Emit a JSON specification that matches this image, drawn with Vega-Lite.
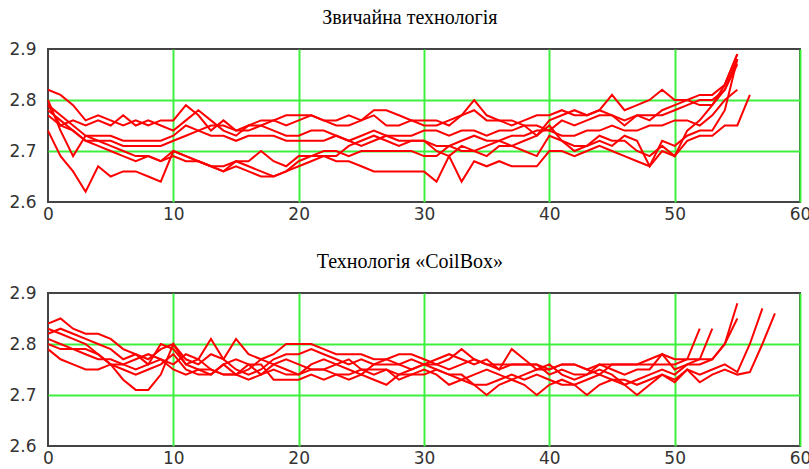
{
 "$schema": "https://vega.github.io/schema/vega-lite/v6.json",
 "padding": {"left": 7, "top": 7, "right": 0, "bottom": 0},
 "background": "white",
 "spacing": 28,
 "config": {
  "view": {"stroke": "#444444", "strokeWidth": 2},
  "title": {"font": "Liberation Serif", "fontSize": 20, "fontWeight": "normal", "color": "#000000", "frame": "bounds", "anchor": "middle", "offset": 12},
  "axis": {"labelFont": "DejaVu Sans", "labelFontSize": 17, "labelColor": "#333333", "ticks": false, "domain": false, "title": null, "gridColor": "#3ef03e", "gridWidth": 2},
  "line": {"color": "#ff0000", "strokeWidth": 2}
 },
 "datasets": {
  "p1": [
{"s":1,"x":0,"y":2.82},{"s":1,"x":1,"y":2.81},{"s":1,"x":2,"y":2.79},{"s":1,"x":3,"y":2.76},{"s":1,"x":4,"y":2.77},{"s":1,"x":5,"y":2.76},{"s":1,"x":6,"y":2.75},{"s":1,"x":7,"y":2.76},{"s":1,"x":8,"y":2.75},{"s":1,"x":9,"y":2.76},{"s":1,"x":10,"y":2.76},{"s":1,"x":11,"y":2.79},{"s":1,"x":12,"y":2.77},{"s":1,"x":13,"y":2.74},{"s":1,"x":14,"y":2.76},{"s":1,"x":15,"y":2.74},{"s":1,"x":16,"y":2.75},{"s":1,"x":17,"y":2.76},{"s":1,"x":18,"y":2.76},{"s":1,"x":19,"y":2.77},{"s":1,"x":20,"y":2.77},{"s":1,"x":21,"y":2.77},{"s":1,"x":22,"y":2.76},{"s":1,"x":23,"y":2.76},{"s":1,"x":24,"y":2.77},{"s":1,"x":25,"y":2.76},{"s":1,"x":26,"y":2.78},{"s":1,"x":27,"y":2.78},{"s":1,"x":28,"y":2.77},{"s":1,"x":29,"y":2.76},{"s":1,"x":30,"y":2.76},{"s":1,"x":31,"y":2.76},{"s":1,"x":32,"y":2.75},{"s":1,"x":33,"y":2.77},{"s":1,"x":34,"y":2.78},{"s":1,"x":35,"y":2.76},{"s":1,"x":36,"y":2.76},{"s":1,"x":37,"y":2.75},{"s":1,"x":38,"y":2.76},{"s":1,"x":39,"y":2.77},{"s":1,"x":40,"y":2.77},{"s":1,"x":41,"y":2.78},{"s":1,"x":42,"y":2.77},{"s":1,"x":43,"y":2.77},{"s":1,"x":44,"y":2.78},{"s":1,"x":45,"y":2.81},{"s":1,"x":46,"y":2.78},{"s":1,"x":47,"y":2.79},{"s":1,"x":48,"y":2.8},{"s":1,"x":49,"y":2.82},{"s":1,"x":50,"y":2.8},{"s":1,"x":51,"y":2.8},{"s":1,"x":52,"y":2.81},{"s":1,"x":53,"y":2.81},{"s":1,"x":54,"y":2.83},{"s":1,"x":55,"y":2.89},
{"s":2,"x":0,"y":2.8},{"s":2,"x":1,"y":2.74},{"s":2,"x":2,"y":2.69},{"s":2,"x":3,"y":2.73},{"s":2,"x":4,"y":2.73},{"s":2,"x":5,"y":2.73},{"s":2,"x":6,"y":2.72},{"s":2,"x":7,"y":2.72},{"s":2,"x":8,"y":2.72},{"s":2,"x":9,"y":2.72},{"s":2,"x":10,"y":2.73},{"s":2,"x":11,"y":2.75},{"s":2,"x":12,"y":2.74},{"s":2,"x":13,"y":2.73},{"s":2,"x":14,"y":2.73},{"s":2,"x":15,"y":2.72},{"s":2,"x":16,"y":2.73},{"s":2,"x":17,"y":2.73},{"s":2,"x":18,"y":2.73},{"s":2,"x":19,"y":2.72},{"s":2,"x":20,"y":2.72},{"s":2,"x":21,"y":2.72},{"s":2,"x":22,"y":2.72},{"s":2,"x":23,"y":2.73},{"s":2,"x":24,"y":2.72},{"s":2,"x":25,"y":2.73},{"s":2,"x":26,"y":2.74},{"s":2,"x":27,"y":2.73},{"s":2,"x":28,"y":2.73},{"s":2,"x":29,"y":2.73},{"s":2,"x":30,"y":2.74},{"s":2,"x":31,"y":2.74},{"s":2,"x":32,"y":2.73},{"s":2,"x":33,"y":2.74},{"s":2,"x":34,"y":2.74},{"s":2,"x":35,"y":2.73},{"s":2,"x":36,"y":2.74},{"s":2,"x":37,"y":2.74},{"s":2,"x":38,"y":2.75},{"s":2,"x":39,"y":2.75},{"s":2,"x":40,"y":2.74},{"s":2,"x":41,"y":2.76},{"s":2,"x":42,"y":2.75},{"s":2,"x":43,"y":2.76},{"s":2,"x":44,"y":2.77},{"s":2,"x":45,"y":2.77},{"s":2,"x":46,"y":2.76},{"s":2,"x":47,"y":2.77},{"s":2,"x":48,"y":2.77},{"s":2,"x":49,"y":2.77},{"s":2,"x":50,"y":2.78},{"s":2,"x":51,"y":2.79},{"s":2,"x":52,"y":2.8},{"s":2,"x":53,"y":2.8},{"s":2,"x":54,"y":2.82},{"s":2,"x":55,"y":2.88},
{"s":3,"x":0,"y":2.79},{"s":3,"x":1,"y":2.75},{"s":3,"x":2,"y":2.76},{"s":3,"x":3,"y":2.75},{"s":3,"x":4,"y":2.76},{"s":3,"x":5,"y":2.75},{"s":3,"x":6,"y":2.77},{"s":3,"x":7,"y":2.75},{"s":3,"x":8,"y":2.76},{"s":3,"x":9,"y":2.75},{"s":3,"x":10,"y":2.74},{"s":3,"x":11,"y":2.76},{"s":3,"x":12,"y":2.78},{"s":3,"x":13,"y":2.76},{"s":3,"x":14,"y":2.74},{"s":3,"x":15,"y":2.73},{"s":3,"x":16,"y":2.75},{"s":3,"x":17,"y":2.75},{"s":3,"x":18,"y":2.76},{"s":3,"x":19,"y":2.75},{"s":3,"x":20,"y":2.76},{"s":3,"x":21,"y":2.77},{"s":3,"x":22,"y":2.76},{"s":3,"x":23,"y":2.75},{"s":3,"x":24,"y":2.75},{"s":3,"x":25,"y":2.76},{"s":3,"x":26,"y":2.77},{"s":3,"x":27,"y":2.75},{"s":3,"x":28,"y":2.75},{"s":3,"x":29,"y":2.76},{"s":3,"x":30,"y":2.75},{"s":3,"x":31,"y":2.75},{"s":3,"x":32,"y":2.76},{"s":3,"x":33,"y":2.77},{"s":3,"x":34,"y":2.8},{"s":3,"x":35,"y":2.77},{"s":3,"x":36,"y":2.76},{"s":3,"x":37,"y":2.76},{"s":3,"x":38,"y":2.75},{"s":3,"x":39,"y":2.73},{"s":3,"x":40,"y":2.76},{"s":3,"x":41,"y":2.77},{"s":3,"x":42,"y":2.78},{"s":3,"x":43,"y":2.77},{"s":3,"x":44,"y":2.78},{"s":3,"x":45,"y":2.77},{"s":3,"x":46,"y":2.75},{"s":3,"x":47,"y":2.77},{"s":3,"x":48,"y":2.76},{"s":3,"x":49,"y":2.78},{"s":3,"x":50,"y":2.79},{"s":3,"x":51,"y":2.8},{"s":3,"x":52,"y":2.79},{"s":3,"x":53,"y":2.79},{"s":3,"x":54,"y":2.82},{"s":3,"x":55,"y":2.87},
{"s":4,"x":0,"y":2.77},{"s":4,"x":1,"y":2.75},{"s":4,"x":2,"y":2.74},{"s":4,"x":3,"y":2.72},{"s":4,"x":4,"y":2.72},{"s":4,"x":5,"y":2.72},{"s":4,"x":6,"y":2.71},{"s":4,"x":7,"y":2.71},{"s":4,"x":8,"y":2.71},{"s":4,"x":9,"y":2.71},{"s":4,"x":10,"y":2.72},{"s":4,"x":11,"y":2.73},{"s":4,"x":12,"y":2.74},{"s":4,"x":13,"y":2.75},{"s":4,"x":14,"y":2.75},{"s":4,"x":15,"y":2.74},{"s":4,"x":16,"y":2.74},{"s":4,"x":17,"y":2.75},{"s":4,"x":18,"y":2.74},{"s":4,"x":19,"y":2.73},{"s":4,"x":20,"y":2.73},{"s":4,"x":21,"y":2.74},{"s":4,"x":22,"y":2.74},{"s":4,"x":23,"y":2.73},{"s":4,"x":24,"y":2.72},{"s":4,"x":25,"y":2.71},{"s":4,"x":26,"y":2.72},{"s":4,"x":27,"y":2.73},{"s":4,"x":28,"y":2.72},{"s":4,"x":29,"y":2.72},{"s":4,"x":30,"y":2.72},{"s":4,"x":31,"y":2.71},{"s":4,"x":32,"y":2.71},{"s":4,"x":33,"y":2.72},{"s":4,"x":34,"y":2.73},{"s":4,"x":35,"y":2.72},{"s":4,"x":36,"y":2.72},{"s":4,"x":37,"y":2.73},{"s":4,"x":38,"y":2.73},{"s":4,"x":39,"y":2.74},{"s":4,"x":40,"y":2.74},{"s":4,"x":41,"y":2.73},{"s":4,"x":42,"y":2.73},{"s":4,"x":43,"y":2.74},{"s":4,"x":44,"y":2.74},{"s":4,"x":45,"y":2.75},{"s":4,"x":46,"y":2.74},{"s":4,"x":47,"y":2.74},{"s":4,"x":48,"y":2.75},{"s":4,"x":49,"y":2.75},{"s":4,"x":50,"y":2.76},{"s":4,"x":51,"y":2.76},{"s":4,"x":52,"y":2.75},{"s":4,"x":53,"y":2.77},{"s":4,"x":54,"y":2.8},{"s":4,"x":55,"y":2.82},
{"s":5,"x":0,"y":2.74},{"s":5,"x":1,"y":2.69},{"s":5,"x":2,"y":2.66},{"s":5,"x":3,"y":2.62},{"s":5,"x":4,"y":2.67},{"s":5,"x":5,"y":2.65},{"s":5,"x":6,"y":2.66},{"s":5,"x":7,"y":2.66},{"s":5,"x":8,"y":2.65},{"s":5,"x":9,"y":2.64},{"s":5,"x":10,"y":2.7},{"s":5,"x":11,"y":2.69},{"s":5,"x":12,"y":2.68},{"s":5,"x":13,"y":2.67},{"s":5,"x":14,"y":2.66},{"s":5,"x":15,"y":2.67},{"s":5,"x":16,"y":2.66},{"s":5,"x":17,"y":2.65},{"s":5,"x":18,"y":2.65},{"s":5,"x":19,"y":2.66},{"s":5,"x":20,"y":2.67},{"s":5,"x":21,"y":2.68},{"s":5,"x":22,"y":2.69},{"s":5,"x":23,"y":2.69},{"s":5,"x":24,"y":2.71},{"s":5,"x":25,"y":2.72},{"s":5,"x":26,"y":2.73},{"s":5,"x":27,"y":2.72},{"s":5,"x":28,"y":2.71},{"s":5,"x":29,"y":2.72},{"s":5,"x":30,"y":2.72},{"s":5,"x":31,"y":2.7},{"s":5,"x":32,"y":2.69},{"s":5,"x":33,"y":2.71},{"s":5,"x":34,"y":2.7},{"s":5,"x":35,"y":2.71},{"s":5,"x":36,"y":2.72},{"s":5,"x":37,"y":2.71},{"s":5,"x":38,"y":2.72},{"s":5,"x":39,"y":2.73},{"s":5,"x":40,"y":2.75},{"s":5,"x":41,"y":2.72},{"s":5,"x":42,"y":2.7},{"s":5,"x":43,"y":2.71},{"s":5,"x":44,"y":2.73},{"s":5,"x":45,"y":2.72},{"s":5,"x":46,"y":2.72},{"s":5,"x":47,"y":2.7},{"s":5,"x":48,"y":2.69},{"s":5,"x":49,"y":2.71},{"s":5,"x":50,"y":2.69},{"s":5,"x":51,"y":2.72},{"s":5,"x":52,"y":2.73},{"s":5,"x":53,"y":2.73},{"s":5,"x":54,"y":2.75},{"s":5,"x":55,"y":2.75},{"s":5,"x":56,"y":2.81},
{"s":6,"x":0,"y":2.78},{"s":6,"x":1,"y":2.76},{"s":6,"x":2,"y":2.74},{"s":6,"x":3,"y":2.72},{"s":6,"x":4,"y":2.71},{"s":6,"x":5,"y":2.7},{"s":6,"x":6,"y":2.69},{"s":6,"x":7,"y":2.68},{"s":6,"x":8,"y":2.69},{"s":6,"x":9,"y":2.68},{"s":6,"x":10,"y":2.7},{"s":6,"x":11,"y":2.69},{"s":6,"x":12,"y":2.68},{"s":6,"x":13,"y":2.67},{"s":6,"x":14,"y":2.67},{"s":6,"x":15,"y":2.68},{"s":6,"x":16,"y":2.68},{"s":6,"x":17,"y":2.7},{"s":6,"x":18,"y":2.68},{"s":6,"x":19,"y":2.67},{"s":6,"x":20,"y":2.69},{"s":6,"x":21,"y":2.69},{"s":6,"x":22,"y":2.7},{"s":6,"x":23,"y":2.7},{"s":6,"x":24,"y":2.69},{"s":6,"x":25,"y":2.7},{"s":6,"x":26,"y":2.7},{"s":6,"x":27,"y":2.7},{"s":6,"x":28,"y":2.7},{"s":6,"x":29,"y":2.7},{"s":6,"x":30,"y":2.69},{"s":6,"x":31,"y":2.69},{"s":6,"x":32,"y":2.71},{"s":6,"x":33,"y":2.7},{"s":6,"x":34,"y":2.7},{"s":6,"x":35,"y":2.69},{"s":6,"x":36,"y":2.71},{"s":6,"x":37,"y":2.71},{"s":6,"x":38,"y":2.7},{"s":6,"x":39,"y":2.69},{"s":6,"x":40,"y":2.73},{"s":6,"x":41,"y":2.72},{"s":6,"x":42,"y":2.71},{"s":6,"x":43,"y":2.71},{"s":6,"x":44,"y":2.72},{"s":6,"x":45,"y":2.71},{"s":6,"x":46,"y":2.73},{"s":6,"x":47,"y":2.72},{"s":6,"x":48,"y":2.67},{"s":6,"x":49,"y":2.72},{"s":6,"x":50,"y":2.71},{"s":6,"x":51,"y":2.73},{"s":6,"x":52,"y":2.74},{"s":6,"x":53,"y":2.74},{"s":6,"x":54,"y":2.78},{"s":6,"x":55,"y":2.88},
{"s":7,"x":0,"y":2.79},{"s":7,"x":1,"y":2.77},{"s":7,"x":2,"y":2.75},{"s":7,"x":3,"y":2.73},{"s":7,"x":4,"y":2.72},{"s":7,"x":5,"y":2.71},{"s":7,"x":6,"y":2.7},{"s":7,"x":7,"y":2.69},{"s":7,"x":8,"y":2.69},{"s":7,"x":9,"y":2.68},{"s":7,"x":10,"y":2.69},{"s":7,"x":11,"y":2.68},{"s":7,"x":12,"y":2.68},{"s":7,"x":13,"y":2.67},{"s":7,"x":14,"y":2.66},{"s":7,"x":15,"y":2.68},{"s":7,"x":16,"y":2.67},{"s":7,"x":17,"y":2.66},{"s":7,"x":18,"y":2.65},{"s":7,"x":19,"y":2.66},{"s":7,"x":20,"y":2.68},{"s":7,"x":21,"y":2.69},{"s":7,"x":22,"y":2.69},{"s":7,"x":23,"y":2.68},{"s":7,"x":24,"y":2.68},{"s":7,"x":25,"y":2.67},{"s":7,"x":26,"y":2.66},{"s":7,"x":27,"y":2.66},{"s":7,"x":28,"y":2.66},{"s":7,"x":29,"y":2.66},{"s":7,"x":30,"y":2.66},{"s":7,"x":31,"y":2.64},{"s":7,"x":32,"y":2.69},{"s":7,"x":33,"y":2.64},{"s":7,"x":34,"y":2.68},{"s":7,"x":35,"y":2.67},{"s":7,"x":36,"y":2.68},{"s":7,"x":37,"y":2.67},{"s":7,"x":38,"y":2.67},{"s":7,"x":39,"y":2.67},{"s":7,"x":40,"y":2.7},{"s":7,"x":41,"y":2.7},{"s":7,"x":42,"y":2.69},{"s":7,"x":43,"y":2.7},{"s":7,"x":44,"y":2.71},{"s":7,"x":45,"y":2.7},{"s":7,"x":46,"y":2.69},{"s":7,"x":47,"y":2.68},{"s":7,"x":48,"y":2.67},{"s":7,"x":49,"y":2.7},{"s":7,"x":50,"y":2.69},{"s":7,"x":51,"y":2.74},{"s":7,"x":52,"y":2.76},{"s":7,"x":53,"y":2.79},{"s":7,"x":54,"y":2.83},{"s":7,"x":55,"y":2.89}
  ],
  "p2": [
{"s":1,"x":0,"y":2.84},{"s":1,"x":1,"y":2.85},{"s":1,"x":2,"y":2.83},{"s":1,"x":3,"y":2.82},{"s":1,"x":4,"y":2.82},{"s":1,"x":5,"y":2.81},{"s":1,"x":6,"y":2.79},{"s":1,"x":7,"y":2.78},{"s":1,"x":8,"y":2.77},{"s":1,"x":9,"y":2.79},{"s":1,"x":10,"y":2.8},{"s":1,"x":11,"y":2.77},{"s":1,"x":12,"y":2.76},{"s":1,"x":13,"y":2.78},{"s":1,"x":14,"y":2.77},{"s":1,"x":15,"y":2.81},{"s":1,"x":16,"y":2.78},{"s":1,"x":17,"y":2.77},{"s":1,"x":18,"y":2.78},{"s":1,"x":19,"y":2.8},{"s":1,"x":20,"y":2.8},{"s":1,"x":21,"y":2.8},{"s":1,"x":22,"y":2.79},{"s":1,"x":23,"y":2.78},{"s":1,"x":24,"y":2.78},{"s":1,"x":25,"y":2.78},{"s":1,"x":26,"y":2.77},{"s":1,"x":27,"y":2.77},{"s":1,"x":28,"y":2.78},{"s":1,"x":29,"y":2.78},{"s":1,"x":30,"y":2.77},{"s":1,"x":31,"y":2.76},{"s":1,"x":32,"y":2.77},{"s":1,"x":33,"y":2.79},{"s":1,"x":34,"y":2.77},{"s":1,"x":35,"y":2.76},{"s":1,"x":36,"y":2.76},{"s":1,"x":37,"y":2.76},{"s":1,"x":38,"y":2.76},{"s":1,"x":39,"y":2.76},{"s":1,"x":40,"y":2.75},{"s":1,"x":41,"y":2.76},{"s":1,"x":42,"y":2.76},{"s":1,"x":43,"y":2.75},{"s":1,"x":44,"y":2.76},{"s":1,"x":45,"y":2.76},{"s":1,"x":46,"y":2.76},{"s":1,"x":47,"y":2.76},{"s":1,"x":48,"y":2.77},{"s":1,"x":49,"y":2.78},{"s":1,"x":50,"y":2.77},{"s":1,"x":51,"y":2.77},{"s":1,"x":52,"y":2.77},{"s":1,"x":53,"y":2.77},{"s":1,"x":54,"y":2.8},{"s":1,"x":55,"y":2.88},
{"s":2,"x":0,"y":2.83},{"s":2,"x":1,"y":2.82},{"s":2,"x":2,"y":2.81},{"s":2,"x":3,"y":2.8},{"s":2,"x":4,"y":2.78},{"s":2,"x":5,"y":2.76},{"s":2,"x":6,"y":2.73},{"s":2,"x":7,"y":2.71},{"s":2,"x":8,"y":2.71},{"s":2,"x":9,"y":2.74},{"s":2,"x":10,"y":2.8},{"s":2,"x":11,"y":2.76},{"s":2,"x":12,"y":2.75},{"s":2,"x":13,"y":2.74},{"s":2,"x":14,"y":2.76},{"s":2,"x":15,"y":2.74},{"s":2,"x":16,"y":2.76},{"s":2,"x":17,"y":2.76},{"s":2,"x":18,"y":2.73},{"s":2,"x":19,"y":2.73},{"s":2,"x":20,"y":2.73},{"s":2,"x":21,"y":2.74},{"s":2,"x":22,"y":2.73},{"s":2,"x":23,"y":2.74},{"s":2,"x":24,"y":2.73},{"s":2,"x":25,"y":2.74},{"s":2,"x":26,"y":2.73},{"s":2,"x":27,"y":2.72},{"s":2,"x":28,"y":2.74},{"s":2,"x":29,"y":2.75},{"s":2,"x":30,"y":2.76},{"s":2,"x":31,"y":2.75},{"s":2,"x":32,"y":2.74},{"s":2,"x":33,"y":2.73},{"s":2,"x":34,"y":2.72},{"s":2,"x":35,"y":2.7},{"s":2,"x":36,"y":2.72},{"s":2,"x":37,"y":2.73},{"s":2,"x":38,"y":2.72},{"s":2,"x":39,"y":2.7},{"s":2,"x":40,"y":2.72},{"s":2,"x":41,"y":2.73},{"s":2,"x":42,"y":2.72},{"s":2,"x":43,"y":2.7},{"s":2,"x":44,"y":2.72},{"s":2,"x":45,"y":2.73},{"s":2,"x":46,"y":2.72},{"s":2,"x":47,"y":2.7},{"s":2,"x":48,"y":2.72},{"s":2,"x":49,"y":2.74},{"s":2,"x":50,"y":2.73},{"s":2,"x":51,"y":2.75},{"s":2,"x":52,"y":2.725},{"s":2,"x":53,"y":2.74},{"s":2,"x":54,"y":2.75},{"s":2,"x":55,"y":2.74},{"s":2,"x":56,"y":2.745},{"s":2,"x":57,"y":2.8},{"s":2,"x":58,"y":2.86},
{"s":3,"x":0,"y":2.82},{"s":3,"x":1,"y":2.83},{"s":3,"x":2,"y":2.82},{"s":3,"x":3,"y":2.81},{"s":3,"x":4,"y":2.8},{"s":3,"x":5,"y":2.79},{"s":3,"x":6,"y":2.77},{"s":3,"x":7,"y":2.78},{"s":3,"x":8,"y":2.76},{"s":3,"x":9,"y":2.8},{"s":3,"x":10,"y":2.79},{"s":3,"x":11,"y":2.76},{"s":3,"x":12,"y":2.77},{"s":3,"x":13,"y":2.81},{"s":3,"x":14,"y":2.77},{"s":3,"x":15,"y":2.75},{"s":3,"x":16,"y":2.74},{"s":3,"x":17,"y":2.75},{"s":3,"x":18,"y":2.77},{"s":3,"x":19,"y":2.78},{"s":3,"x":20,"y":2.78},{"s":3,"x":21,"y":2.79},{"s":3,"x":22,"y":2.78},{"s":3,"x":23,"y":2.77},{"s":3,"x":24,"y":2.76},{"s":3,"x":25,"y":2.77},{"s":3,"x":26,"y":2.76},{"s":3,"x":27,"y":2.76},{"s":3,"x":28,"y":2.76},{"s":3,"x":29,"y":2.77},{"s":3,"x":30,"y":2.76},{"s":3,"x":31,"y":2.77},{"s":3,"x":32,"y":2.78},{"s":3,"x":33,"y":2.77},{"s":3,"x":34,"y":2.76},{"s":3,"x":35,"y":2.77},{"s":3,"x":36,"y":2.75},{"s":3,"x":37,"y":2.79},{"s":3,"x":38,"y":2.77},{"s":3,"x":39,"y":2.75},{"s":3,"x":40,"y":2.75},{"s":3,"x":41,"y":2.76},{"s":3,"x":42,"y":2.76},{"s":3,"x":43,"y":2.75},{"s":3,"x":44,"y":2.74},{"s":3,"x":45,"y":2.76},{"s":3,"x":46,"y":2.76},{"s":3,"x":47,"y":2.76},{"s":3,"x":48,"y":2.76},{"s":3,"x":49,"y":2.76},{"s":3,"x":50,"y":2.76},{"s":3,"x":51,"y":2.77},{"s":3,"x":52,"y":2.83},
{"s":4,"x":0,"y":2.81},{"s":4,"x":1,"y":2.8},{"s":4,"x":2,"y":2.79},{"s":4,"x":3,"y":2.79},{"s":4,"x":4,"y":2.78},{"s":4,"x":5,"y":2.76},{"s":4,"x":6,"y":2.75},{"s":4,"x":7,"y":2.74},{"s":4,"x":8,"y":2.75},{"s":4,"x":9,"y":2.76},{"s":4,"x":10,"y":2.78},{"s":4,"x":11,"y":2.75},{"s":4,"x":12,"y":2.74},{"s":4,"x":13,"y":2.74},{"s":4,"x":14,"y":2.76},{"s":4,"x":15,"y":2.77},{"s":4,"x":16,"y":2.76},{"s":4,"x":17,"y":2.74},{"s":4,"x":18,"y":2.76},{"s":4,"x":19,"y":2.77},{"s":4,"x":20,"y":2.76},{"s":4,"x":21,"y":2.75},{"s":4,"x":22,"y":2.75},{"s":4,"x":23,"y":2.76},{"s":4,"x":24,"y":2.77},{"s":4,"x":25,"y":2.75},{"s":4,"x":26,"y":2.74},{"s":4,"x":27,"y":2.75},{"s":4,"x":28,"y":2.74},{"s":4,"x":29,"y":2.74},{"s":4,"x":30,"y":2.75},{"s":4,"x":31,"y":2.74},{"s":4,"x":32,"y":2.72},{"s":4,"x":33,"y":2.73},{"s":4,"x":34,"y":2.74},{"s":4,"x":35,"y":2.75},{"s":4,"x":36,"y":2.74},{"s":4,"x":37,"y":2.73},{"s":4,"x":38,"y":2.74},{"s":4,"x":39,"y":2.75},{"s":4,"x":40,"y":2.76},{"s":4,"x":41,"y":2.74},{"s":4,"x":42,"y":2.73},{"s":4,"x":43,"y":2.74},{"s":4,"x":44,"y":2.75},{"s":4,"x":45,"y":2.74},{"s":4,"x":46,"y":2.72},{"s":4,"x":47,"y":2.73},{"s":4,"x":48,"y":2.74},{"s":4,"x":49,"y":2.75},{"s":4,"x":50,"y":2.74},{"s":4,"x":51,"y":2.76},{"s":4,"x":52,"y":2.77},{"s":4,"x":53,"y":2.83},
{"s":5,"x":0,"y":2.8},{"s":5,"x":1,"y":2.79},{"s":5,"x":2,"y":2.79},{"s":5,"x":3,"y":2.78},{"s":5,"x":4,"y":2.77},{"s":5,"x":5,"y":2.77},{"s":5,"x":6,"y":2.76},{"s":5,"x":7,"y":2.77},{"s":5,"x":8,"y":2.78},{"s":5,"x":9,"y":2.77},{"s":5,"x":10,"y":2.76},{"s":5,"x":11,"y":2.78},{"s":5,"x":12,"y":2.77},{"s":5,"x":13,"y":2.75},{"s":5,"x":14,"y":2.74},{"s":5,"x":15,"y":2.74},{"s":5,"x":16,"y":2.75},{"s":5,"x":17,"y":2.77},{"s":5,"x":18,"y":2.76},{"s":5,"x":19,"y":2.75},{"s":5,"x":20,"y":2.74},{"s":5,"x":21,"y":2.76},{"s":5,"x":22,"y":2.77},{"s":5,"x":23,"y":2.76},{"s":5,"x":24,"y":2.75},{"s":5,"x":25,"y":2.74},{"s":5,"x":26,"y":2.76},{"s":5,"x":27,"y":2.77},{"s":5,"x":28,"y":2.76},{"s":5,"x":29,"y":2.75},{"s":5,"x":30,"y":2.76},{"s":5,"x":31,"y":2.76},{"s":5,"x":32,"y":2.75},{"s":5,"x":33,"y":2.76},{"s":5,"x":34,"y":2.77},{"s":5,"x":35,"y":2.76},{"s":5,"x":36,"y":2.75},{"s":5,"x":37,"y":2.76},{"s":5,"x":38,"y":2.76},{"s":5,"x":39,"y":2.76},{"s":5,"x":40,"y":2.74},{"s":5,"x":41,"y":2.75},{"s":5,"x":42,"y":2.74},{"s":5,"x":43,"y":2.74},{"s":5,"x":44,"y":2.76},{"s":5,"x":45,"y":2.75},{"s":5,"x":46,"y":2.74},{"s":5,"x":47,"y":2.75},{"s":5,"x":48,"y":2.75},{"s":5,"x":49,"y":2.78},{"s":5,"x":50,"y":2.75},{"s":5,"x":51,"y":2.76},{"s":5,"x":52,"y":2.76},{"s":5,"x":53,"y":2.77},{"s":5,"x":54,"y":2.8},{"s":5,"x":55,"y":2.85},
{"s":6,"x":0,"y":2.79},{"s":6,"x":1,"y":2.77},{"s":6,"x":2,"y":2.76},{"s":6,"x":3,"y":2.75},{"s":6,"x":4,"y":2.75},{"s":6,"x":5,"y":2.76},{"s":6,"x":6,"y":2.76},{"s":6,"x":7,"y":2.75},{"s":6,"x":8,"y":2.76},{"s":6,"x":9,"y":2.77},{"s":6,"x":10,"y":2.75},{"s":6,"x":11,"y":2.74},{"s":6,"x":12,"y":2.75},{"s":6,"x":13,"y":2.75},{"s":6,"x":14,"y":2.74},{"s":6,"x":15,"y":2.74},{"s":6,"x":16,"y":2.73},{"s":6,"x":17,"y":2.74},{"s":6,"x":18,"y":2.75},{"s":6,"x":19,"y":2.74},{"s":6,"x":20,"y":2.74},{"s":6,"x":21,"y":2.75},{"s":6,"x":22,"y":2.75},{"s":6,"x":23,"y":2.74},{"s":6,"x":24,"y":2.74},{"s":6,"x":25,"y":2.75},{"s":6,"x":26,"y":2.75},{"s":6,"x":27,"y":2.75},{"s":6,"x":28,"y":2.73},{"s":6,"x":29,"y":2.74},{"s":6,"x":30,"y":2.74},{"s":6,"x":31,"y":2.75},{"s":6,"x":32,"y":2.74},{"s":6,"x":33,"y":2.74},{"s":6,"x":34,"y":2.72},{"s":6,"x":35,"y":2.72},{"s":6,"x":36,"y":2.73},{"s":6,"x":37,"y":2.74},{"s":6,"x":38,"y":2.73},{"s":6,"x":39,"y":2.74},{"s":6,"x":40,"y":2.73},{"s":6,"x":41,"y":2.72},{"s":6,"x":42,"y":2.72},{"s":6,"x":43,"y":2.73},{"s":6,"x":44,"y":2.74},{"s":6,"x":45,"y":2.73},{"s":6,"x":46,"y":2.73},{"s":6,"x":47,"y":2.72},{"s":6,"x":48,"y":2.73},{"s":6,"x":49,"y":2.74},{"s":6,"x":50,"y":2.725},{"s":6,"x":51,"y":2.75},{"s":6,"x":52,"y":2.74},{"s":6,"x":53,"y":2.75},{"s":6,"x":54,"y":2.76},{"s":6,"x":55,"y":2.745},{"s":6,"x":56,"y":2.8},{"s":6,"x":57,"y":2.87}
  ]
 },
 "vconcat": [
  {
   "title": "Звичайна технологія",
   "data": {"name": "p1"},
   "width": 752,
   "height": 153,
   "mark": {"type": "line", "color": "#ff0000", "strokeWidth": 2},
   "encoding": {
    "x": {"field": "x", "type": "quantitative", "scale": {"domain": [0, 60], "nice": false, "zero": false}, "axis": {"values": [0, 10, 20, 30, 40, 50, 60], "labelFlush": false, "labelPadding": 4, "gridOpacity": {"condition": {"test": "datum.value == 0", "value": 0}, "value": 1}}},
    "y": {"field": "y", "type": "quantitative", "scale": {"domain": [2.6, 2.9], "nice": false, "zero": false}, "axis": {"values": [2.6, 2.7, 2.8, 2.9], "format": ".1f", "labelPadding": 12, "gridOpacity": {"condition": {"test": "datum.value < 2.65 || datum.value > 2.85", "value": 0}, "value": 1}}},
    "detail": {"field": "s", "type": "nominal"}
   }
  },
  {
   "title": "Технологія «CoilBox»",
   "data": {"name": "p2"},
   "width": 752,
   "height": 153,
   "mark": {"type": "line", "color": "#ff0000", "strokeWidth": 2},
   "encoding": {
    "x": {"field": "x", "type": "quantitative", "scale": {"domain": [0, 60], "nice": false, "zero": false}, "axis": {"values": [0, 10, 20, 30, 40, 50, 60], "labelFlush": false, "labelPadding": 4, "gridOpacity": {"condition": {"test": "datum.value == 0", "value": 0}, "value": 1}}},
    "y": {"field": "y", "type": "quantitative", "scale": {"domain": [2.6, 2.9], "nice": false, "zero": false}, "axis": {"values": [2.6, 2.7, 2.8, 2.9], "format": ".1f", "labelPadding": 12, "gridOpacity": {"condition": {"test": "datum.value < 2.65 || datum.value > 2.85", "value": 0}, "value": 1}}},
    "detail": {"field": "s", "type": "nominal"}
   }
  }
 ]
}
